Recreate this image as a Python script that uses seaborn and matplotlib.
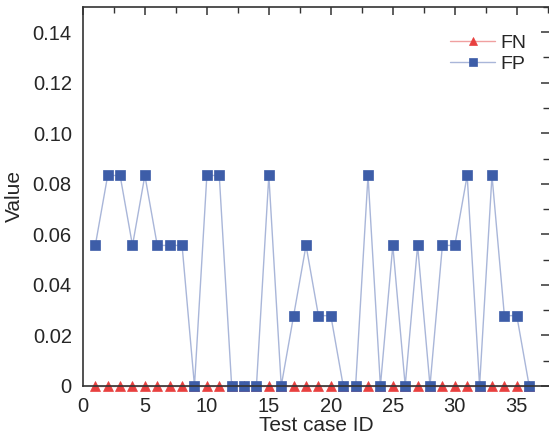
import numpy as np
import pandas as pd
import seaborn as sns
import matplotlib.pyplot as plt
from matplotlib.ticker import MultipleLocator

# Daten
test_ids = list(range(1, 37))
fn_values = [0.0] * 36
fp_values = [0.0556, 0.0833, 0.0833, 0.0556, 0.0833, 0.0556, 0.0556, 0.0556, 0.0,
             0.0833, 0.0833, 0.0, 0.0, 0.0, 0.0833, 0.0, 0.0278, 0.0556,
             0.0278, 0.0278, 0.0, 0.0, 0.0833, 0.0, 0.0556, 0.0, 0.0556,
             0.0, 0.0556, 0.0556, 0.0833, 0.0, 0.0833, 0.0278, 0.0278, 0.0]

df = pd.DataFrame({
    'Test case ID': test_ids * 2,
    'Value': fn_values + fp_values,
    'Metric': ['FN'] * 36 + ['FP'] * 36,
})

sns.set_style('white')
plt.rcParams['font.family'] = ['Liberation Sans', 'DejaVu Sans']

fig = plt.figure(figsize=(5.49, 4.36), dpi=100)
ax = fig.add_axes([0.151, 0.115, 0.849, 0.869])

styles = {
    'FN': dict(line='#f0a0a0', face='#e8403f', marker='^', size=7.5),
    'FP': dict(line='#a9b6d9', face='#3d5da8', marker='s', size=6.5),
}
for name in ['FN', 'FP']:
    st = styles[name]
    sns.lineplot(data=df[df['Metric'] == name], x='Test case ID', y='Value',
                 ax=ax, color=st['line'], linewidth=1.0, marker=st['marker'],
                 markersize=st['size'], markerfacecolor=st['face'],
                 markeredgecolor=st['face'], markeredgewidth=0.5, label=name,
                 clip_on=False)

ax.set_xlim(0, 37.6)
ax.set_ylim(0, 0.15)
ax.xaxis.set_major_locator(MultipleLocator(5))
ax.xaxis.set_minor_locator(MultipleLocator(2.5))
ax.yaxis.set_minor_locator(MultipleLocator(0.01))
ax.set_yticks([0, 0.02, 0.04, 0.06, 0.08, 0.10, 0.12, 0.14])
ax.set_yticklabels(['0', '0.02', '0.04', '0.06', '0.08', '0.10', '0.12', '0.14'])

for s in ax.spines.values():
    s.set_color('#333333')
    s.set_linewidth(1.2)
ax.spines['right'].set_visible(False)

ax.tick_params(axis='both', which='major', labelsize=14.5, length=6, width=1.1,
               direction='out', color='#333333', top=True, right=True, pad=2)
ax.tick_params(axis='both', which='minor', length=4, width=1.0,
               direction='out', color='#333333', top=True, right=True)
for tk in ax.xaxis.get_major_ticks() + ax.xaxis.get_minor_ticks():
    tk.tick2line.set_marker(3)
for tk in ax.yaxis.get_major_ticks() + ax.yaxis.get_minor_ticks():
    tk.tick2line.set_marker(0)

ax.set_xlabel('Test case ID', fontsize=15, labelpad=0)
ax.set_ylabel('Value', fontsize=15, labelpad=6)

leg = ax.legend(loc='upper right', bbox_to_anchor=(0.99, 0.975), frameon=False,
                fontsize=14, handlelength=2.3, handletextpad=0.3, labelspacing=0.2)
for h in leg.legend_handles:
    h.set_markersize(5.5)

fig.savefig('out.png', dpi=100)
